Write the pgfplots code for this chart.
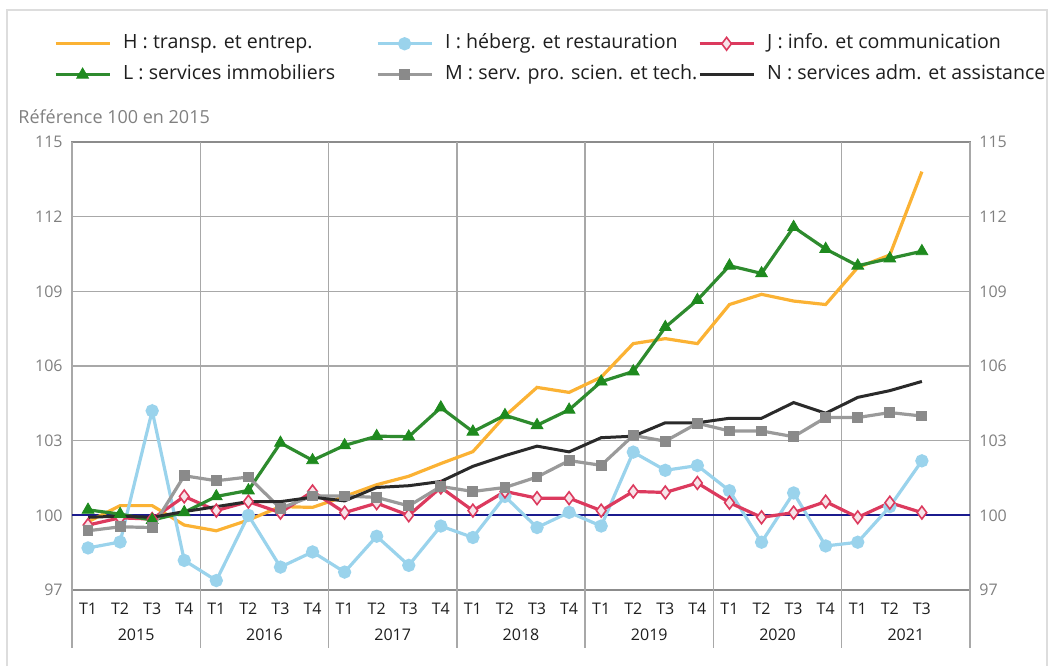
\documentclass[border=0pt]{standalone}
\usepackage{pgfplots}
\pgfplotsset{compat=1.18}
\usepackage{pgfplotstable}
\usepackage{fontspec}
\setmainfont{Open Sans}
\definecolor{cH}{HTML}{FBB234}
\definecolor{cI}{HTML}{9AD3EC}
\definecolor{cJ}{HTML}{DC3A5E}
\definecolor{cJfill}{HTML}{F7E4E9}
\definecolor{cL}{HTML}{2E8B2E}
\definecolor{cLfill}{HTML}{1E8A1E}
\definecolor{cM}{HTML}{9A9A9A}
\definecolor{cMm}{HTML}{8A8A8A}
\definecolor{cN}{HTML}{2A2A2A}
\definecolor{cZero}{HTML}{1B1B8E}
\definecolor{gridc}{HTML}{A8A8A8}
\definecolor{axc}{HTML}{8C8C8C}
\definecolor{labc}{HTML}{808080}
\definecolor{txt}{HTML}{1E1E1E}
\definecolor{framec}{HTML}{DDDDDD}

\pgfplotstableread{
x H I J L M N
0 99.74 98.69 99.61 100.22 99.38 99.92
1 100.39 98.93 99.90 100.05 99.54 99.97
2 100.39 104.20 99.85 99.81 99.51 99.92
3 99.61 98.19 100.76 100.12 101.59 100.15
4 99.38 97.38 100.19 100.76 101.39 100.35
5 99.81 100.00 100.55 101.00 101.54 100.55
6 100.35 97.92 100.11 102.91 100.28 100.55
7 100.32 98.53 100.96 102.21 100.78 100.73
8 100.76 97.72 100.11 102.81 100.78 100.58
9 101.23 99.16 100.49 103.18 100.72 101.12
10 101.57 97.99 100.00 103.16 100.38 101.19
11 102.08 99.57 101.12 104.33 101.16 101.36
12 102.56 99.11 100.19 103.36 100.96 101.97
13 103.99 100.76 100.96 104.02 101.12 102.40
14 105.14 99.51 100.69 103.62 101.54 102.78
15 104.94 100.12 100.69 104.24 102.20 102.55
16 105.55 99.57 100.19 105.37 102.01 103.12
17 106.90 102.54 100.96 105.78 103.21 103.18
18 107.10 101.81 100.92 107.56 102.98 103.72
19 106.90 102.00 101.30 108.65 103.70 103.72
20 108.47 100.99 100.51 110.03 103.39 103.90
21 108.88 98.92 99.92 109.72 103.39 103.90
22 108.61 100.90 100.11 111.58 103.16 104.53
23 108.47 98.77 100.55 110.70 103.93 104.10
24 109.96 98.92 99.92 110.03 103.93 104.74
25 110.46 100.35 100.51 110.32 104.13 105.01
26 113.81 102.19 100.11 110.61 103.99 105.38
}\data

\newcommand{\legfont}{\fontsize{9.8bp}{11bp}\selectfont}
\newcommand{\tickfont}{\fontsize{8bp}{9.5bp}\selectfont}

\begin{document}
\begin{tikzpicture}
\path (0,0) rectangle (525.5bp,-333bp);
\draw[framec, line width=1bp] (3.5bp,-333bp) -- (3.5bp,-5bp) -- (523.5bp,-5bp) -- (523.5bp,-333bp);
\node[anchor=base west, inner sep=0pt, text=labc, font=\fontsize{9bp}{10.5bp}\selectfont] at (9bp,-61.75bp) {Référence 100 en 2015};

\begin{axis}[
  at={(36bp,-295bp)}, anchor=south west,
  scale only axis, width=449bp, height=224bp,
  xmin=-0.5, xmax=27.5, ymin=97, ymax=115,
  clip=false,
  axis line style={draw=axc, line width=0.75bp},
  ytick={97,100,...,115},
  ymajorgrids=true,
  major grid style={draw=gridc, line width=0.75bp},
  major tick length=0pt,
  /pgf/number format/assume math mode=true,
  yticklabel style={font=\tickfont, text=labc, inner sep=0pt, xshift=-4.5bp},
  xtick={0,...,26},
  xticklabels={T1,T2,T3,T4,T1,T2,T3,T4,T1,T2,T3,T4,T1,T2,T3,T4,T1,T2,T3,T4,T1,T2,T3,T4,T1,T2,T3},
  xticklabel style={font=\tickfont, text=txt, inner sep=0pt, anchor=base, yshift=-12bp},
  legend columns=3,
  legend cell align=left,
  legend style={at={(-0.02004,1.2398)}, anchor=north west, draw=none, fill=none,
    inner sep=0pt, outer sep=0pt, column sep=0pt, row sep=6.3bp,
    nodes={inner sep=0pt, text height=7.2bp, text depth=2bp, font=\legfont, text=txt}},
  legend image code/.code={\draw[mark repeat=2,mark phase=2,#1] plot coordinates {(0bp,0bp) (13.5bp,0bp) (27bp,0bp)};},
]
% year separators
\foreach \xx in {-0.5,3.5,7.5,11.5,15.5,19.5,23.5,27.5} {
  \edef\tmp{\noexpand\draw[gridc, line width=0.75bp] (axis cs:\xx,115) -- ([yshift=-29bp]axis cs:\xx,97);}
  \tmp
}
\addplot[cZero, line width=1bp, forget plot] coordinates {(-0.5,100) (27.5,100)};

\addplot[cH, line width=1.6bp, no marks] table[x=x, y=H] {\data};
\addlegendentry{\makebox[132.4bp][l]{\hspace{6bp}H : transp. et entrep.}}
\addplot[cI, line width=1.6bp, mark=*, mark size=2.5bp, mark options={fill=cI, draw=cI}] table[x=x, y=I] {\data};
\addlegendentry{\makebox[132.4bp][l]{\hspace{6bp}I : héberg. et restauration}}
\addplot[cJ, line width=1.6bp, mark=diamond*, mark size=3.2bp, mark options={fill=cJfill, draw=cJ, line width=0.8bp}] table[x=x, y=J] {\data};
\addlegendentry{\makebox[132.4bp][l]{\hspace{6bp}J : info. et communication}}
\addplot[cL, line width=1.6bp, mark=triangle*, mark size=3.4bp, mark options={fill=cLfill, draw=cLfill, line width=0.4bp}] table[x=x, y=L] {\data};
\addlegendentry{\makebox[132.4bp][l]{\hspace{6bp}L : services immobiliers}}
\addplot[cM, line width=1.6bp, mark=square*, mark size=1.9bp, mark options={fill=cMm, draw=cMm}] table[x=x, y=M] {\data};
\addlegendentry{\makebox[132.4bp][l]{\hspace{6bp}M : serv. pro. scien. et tech.}}
\addplot[cN, line width=1.5bp, no marks] table[x=x, y=N] {\data};
\addlegendentry{\makebox[132.4bp][l]{\hspace{6bp}N : services adm. et assistance}}

\foreach \xx/\yy in {1.5/2015,5.5/2016,9.5/2017,13.5/2018,17.5/2019,21.5/2020,25.5/2021} {
  \edef\tmp{\noexpand\node[anchor=base, inner sep=0pt, font=\noexpand\tickfont, text=txt] at ([yshift=-25bp]axis cs:\xx,97) {\yy};}
  \tmp
}
\end{axis}

\begin{axis}[
  at={(36bp,-295bp)}, anchor=south west,
  scale only axis, width=449bp, height=224bp,
  xmin=-0.5, xmax=27.5, ymin=97, ymax=115,
  axis y line*=right, axis x line=none,
  y axis line style={draw=none},
  ytick={97,100,...,115},
  major tick length=0pt,
  /pgf/number format/assume math mode=true,
  yticklabel style={font=\tickfont, text=labc, inner sep=0pt, anchor=west, xshift=4.5bp},
]
\addplot[draw=none, forget plot] coordinates {(0,100)};
\end{axis}
\end{tikzpicture}
\end{document}
